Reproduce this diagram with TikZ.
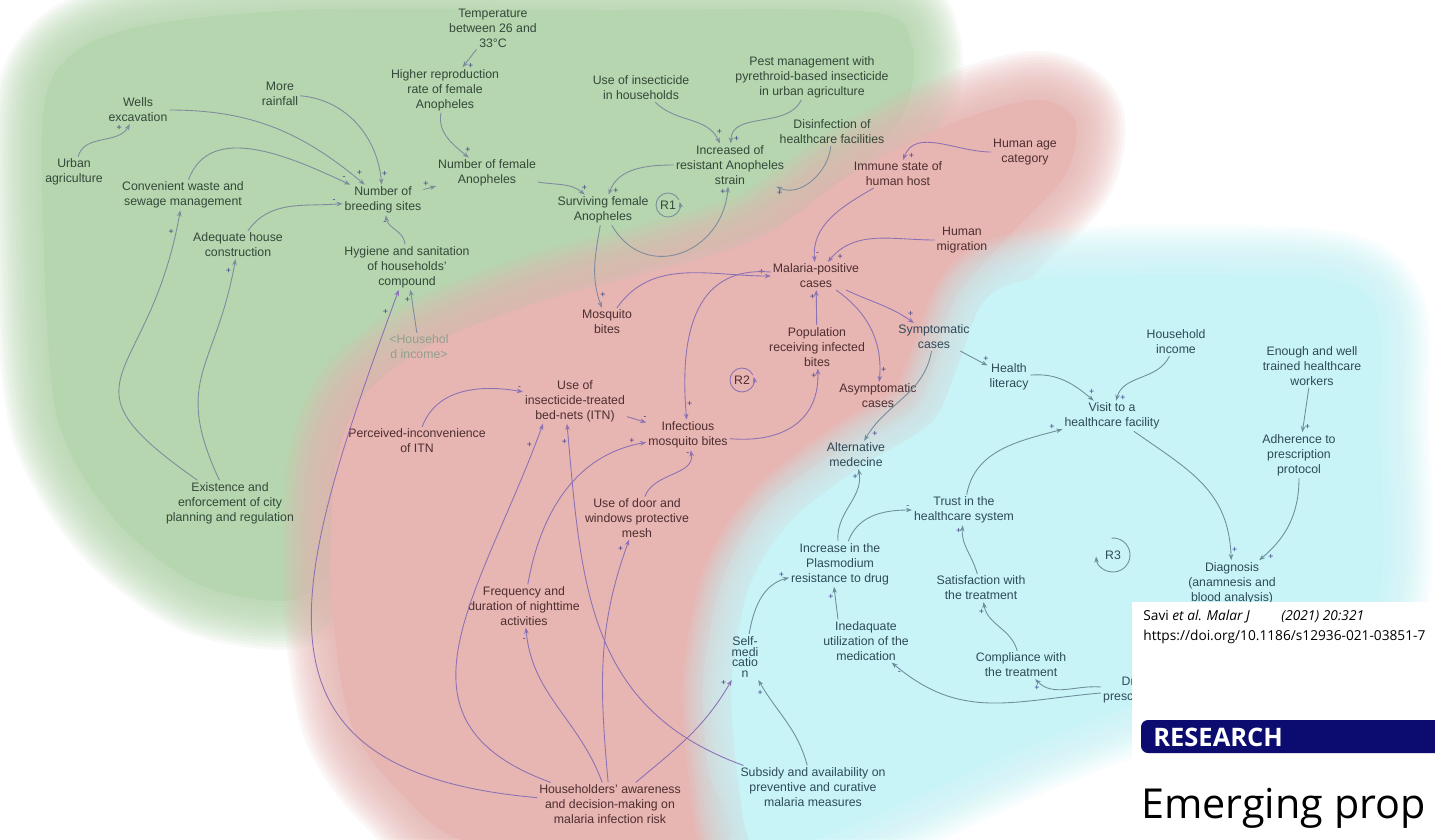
\documentclass[tikz,border=0pt]{standalone}
\usepackage{fontspec}
\setmainfont{Liberation Sans}
\newfontfamily\paperfont{Open Sans}
\usetikzlibrary{arrows.meta,calc}

\definecolor{gbg}{HTML}{B5D6AE}
\definecolor{rbg}{HTML}{E7B5B2}
\definecolor{cbg}{HTML}{C8F4F8}
\definecolor{gtext}{HTML}{34483A}
\definecolor{rtext}{HTML}{4E2E30}
\definecolor{ctext}{HTML}{2E4A58}
\definecolor{gline}{HTML}{7E8C9E}
\definecolor{rline}{HTML}{8C72B4}
\definecolor{cline}{HTML}{6E8E9C}
\definecolor{signc}{HTML}{3C3C86}
\definecolor{hincomec}{HTML}{8FA08F}
\definecolor{resblue}{HTML}{0C0C70}

\begin{document}
\begin{tikzpicture}[x=0.02cm, y=0.02cm,
  lbl/.style={align=center, inner sep=1pt, font=\fontsize{7}{8.5}\selectfont},
  gtxt/.style={lbl, text=gtext},
  rtxt/.style={lbl, text=rtext},
  ctxt/.style={lbl, text=ctext},
  lnk/.style={line width=0.5pt, -{Stealth[length=3.5pt,width=2.6pt]}},
  garr/.style={lnk, draw=gline},
  rarr/.style={lnk, draw=rline},
  carr/.style={lnk, draw=cline},
  pol/.style={font=\fontsize{5}{5}\selectfont, inner sep=0.5pt, text=signc},
  paper/.style={anchor=west, inner sep=0pt, font=\paperfont\fontsize{7.8}{9}\selectfont}]
\useasboundingbox (0,0) rectangle (1435,-839);
\fill[white] (0,0) rectangle (1435,-839);

% Background zones (soft edges)
\foreach \i [evaluate=\i as \lw using 59.5-\i*3.5] in {1,...,16}{
  \draw[gbg, line width=\lw pt, opacity=0.1, line join=round]
    plot[smooth cycle] coordinates {(48,-88) (118,-32) (300,-10) (600,-10) (870,-12) (912,-46) (905,-110) (858,-168) (760,-232) (560,-292) (420,-352) (350,-440) (330,-560) (292,-600) (200,-585) (115,-520) (58,-420) (44,-250)};
}
\fill[gbg] plot[smooth cycle] coordinates {(48,-88) (118,-32) (300,-10) (600,-10) (870,-12) (912,-46) (905,-110) (858,-168) (760,-232) (560,-292) (420,-352) (350,-440) (330,-560) (292,-600) (200,-585) (115,-520) (58,-420) (44,-250)};
\foreach \i [evaluate=\i as \lw using 59.5-\i*3.5] in {1,...,16}{
  \draw[rbg, line width=\lw pt, opacity=0.1, line join=round]
    plot[smooth cycle] coordinates {(335,-470) (362,-398) (430,-345) (540,-302) (650,-272) (760,-238) (850,-175) (950,-124) (1035,-100) (1075,-120) (1065,-175) (1005,-240) (955,-300) (935,-360) (912,-410) (840,-450) (765,-505) (722,-580) (703,-680) (708,-770) (720,-845) (480,-845) (398,-790) (350,-720) (332,-600)};
}
\fill[rbg] plot[smooth cycle] coordinates {(335,-470) (362,-398) (430,-345) (540,-302) (650,-272) (760,-238) (850,-175) (950,-124) (1035,-100) (1075,-120) (1065,-175) (1005,-240) (955,-300) (935,-360) (912,-410) (840,-450) (765,-505) (722,-580) (703,-680) (708,-770) (720,-845) (480,-845) (398,-790) (350,-720) (332,-600)};
\foreach \i [evaluate=\i as \lw using 59.5-\i*3.5] in {1,...,16}{
  \draw[cbg, line width=\lw pt, opacity=0.1, line join=round]
    plot[smooth cycle] coordinates {(985,-300) (1040,-278) (1200,-274) (1335,-280) (1378,-315) (1380,-420) (1378,-600) (1300,-660) (1150,-700) (1020,-750) (900,-805) (800,-845) (752,-845) (737,-770) (732,-680) (750,-585) (792,-520) (862,-466) (932,-422) (958,-365)};
}
\fill[cbg] plot[smooth cycle] coordinates {(985,-300) (1040,-278) (1200,-274) (1335,-280) (1378,-315) (1380,-420) (1378,-600) (1300,-660) (1150,-700) (1020,-750) (900,-805) (800,-845) (752,-845) (737,-770) (732,-680) (750,-585) (792,-520) (862,-466) (932,-422) (958,-365)};

% Green zone: breeding sites and vectors
\node[gtxt] (temp) at (493,-28) {Temperature\\between 26 and\\33°C};
\node[gtxt] (higher) at (445,-90) {Higher reproduction\\rate of female\\Anopheles};
\node[gtxt] (rain) at (280,-94) {More\\rainfall};
\node[gtxt] (wells) at (138,-110) {Wells\\excavation};
\node[gtxt] (urban) at (74,-172) {Urban\\agriculture};
\node[gtxt] (waste) at (183,-195) {Convenient waste and\\sewage management};
\node[gtxt] (breed) at (383,-200) {Number of\\breeding sites};
\node[gtxt] (female) at (487,-173) {Number of female\\Anopheles};
\node[gtxt] (adequate) at (238,-245) {Adequate house\\construction};
\node[gtxt] (hygiene) at (407,-267) {Hygiene and sanitation\\of households'\\compound};
\node[lbl, text=hincomec] (hincome) at (419,-347) {\textless Househol\\d income\textgreater};
\node[gtxt] (exist) at (230,-503) {Existence and\\enforcement of city\\planning and regulation};
\node[gtxt] (insect) at (641,-88) {Use of insecticide\\in households};
\node[gtxt] (pest) at (812,-77) {Pest management with\\pyrethroid-based insecticide\\in urban agriculture};
\node[gtxt] (disinf) at (832,-132) {Disinfection of\\healthcare facilities};
\node[gtxt] (resist) at (730,-165) {Increased of\\resistant Anopheles\\strain};
\node[gtxt] (surviving) at (603,-210) {Surviving female\\Anopheles};
\node[gtxt] (r1) at (668,-205) {R1};

% Red zone: transmission
\node[rtxt] (humanage) at (1025,-152) {Human age\\category};
\node[rtxt] (immune) at (898,-174) {Immune state of\\human host};
\node[rtxt] (migration) at (962,-240) {Human\\migration};
\node[rtxt] (malaria) at (816,-276) {Malaria-positive\\cases};
\node[rtxt] (mosq) at (607,-322) {Mosquito\\bites};
\node[rtxt] (popul) at (817,-347) {Population\\receiving infected\\bites};
\node[rtxt] (r2) at (742,-380) {R2};
\node[rtxt] (asym) at (878,-396) {Asymptomatic\\cases};
\node[rtxt] (itn) at (575,-401) {Use of\\insecticide-treated\\bed-nets (ITN)};
\node[rtxt] (percv) at (417,-441) {Perceived-inconvenience\\of ITN};
\node[rtxt] (infect) at (688,-435) {Infectious\\mosquito bites};
\node[rtxt] (door) at (637,-518) {Use of door and\\windows protective\\mesh};
\node[rtxt] (freq) at (524,-606) {Frequency and\\duration of nighttime\\activities};
\node[rtxt] (house) at (610,-804) {Householders' awareness\\and decision-making on\\malaria infection risk};

% Cyan zone: care seeking
\node[ctxt] (sympt) at (934,-337) {Symptomatic\\cases};
\node[ctxt] (hhincome) at (1176,-342) {Household\\income};
\node[ctxt] (health) at (1009,-377) {Health\\literacy};
\node[ctxt] (visit) at (1112,-416) {Visit to a\\healthcare facility};
\node[ctxt] (enough) at (1312,-366) {Enough and well\\trained healthcare\\workers};
\node[ctxt] (adher) at (1299,-455) {Adherence to\\prescription\\protocol};
\node[ctxt] (altern) at (856,-455) {Alternative\\medecine};
\node[ctxt] (trust) at (964,-510) {Trust in the\\healthcare system};
\node[ctxt] (plasmo) at (840,-564) {Increase in the\\Plasmodium\\resistance to drug};
\node[ctxt] (r3) at (1113,-555) {R3};
\node[ctxt] (diag) at (1232,-583) {Diagnosis\\(anamnesis and\\blood analysis)};
\node[ctxt] (satisf) at (981,-588) {Satisfaction with\\the treatment};
\node[ctxt] (inadeq) at (866,-641) {Inedaquate\\utilization of the\\medication};
\node[ctxt] (compl) at (1021,-665) {Compliance with\\the treatment};
\node[ctxt] (drug) at (1135,-690) {Drug\\prescription};
\node[ctxt, font=\fontsize{7}{6.2}\selectfont] (selfmed) at (745,-657) {Self-\\medi\\catio\\n};
\node[ctxt] (subsidy) at (813,-787) {Subsidy and availability on\\preventive and curative\\malaria measures};

% links, green
\draw[garr] (urban) to[out=75,in=240] node[pol,pos=0.85,auto]{+} (wells);
\draw[garr] (wells) to[out=0,in=140] node[pol,pos=0.95,auto]{+} (breed);
\draw[garr] (rain) to[out=-5,in=95] node[pol,pos=0.95,auto]{+} (breed);
\draw[garr] (waste) to[out=70,in=155] node[pol,pos=0.95,auto]{-} (breed);
\draw[garr] (adequate) to[out=55,in=185] node[pol,pos=0.95,auto]{-} (breed);
\draw[garr] (hygiene) to[out=95,in=-80] node[pol,pos=0.85,auto]{-} (breed);
\draw[garr] (exist) to[out=145,in=-100,looseness=1.7] node[pol,pos=0.95,auto]{+} (waste);
\draw[garr] (exist) to[out=115,in=-100,looseness=1.3] node[pol,pos=0.95,auto]{+} (adequate);
\draw[garr] (hincome) -- node[pol,pos=0.85,auto]{+} (hygiene);
\draw[garr] (temp) -- node[pol,pos=0.7,auto]{+} (higher);
\draw[garr] (higher) to[out=-100,in=140] node[pol,pos=0.9,auto]{+} (female);
\draw[garr] (breed) -- node[pol,pos=0.5,auto]{+} (female);
\draw[garr] (female) to[out=-10,in=140] node[pol,pos=0.9,auto]{+} (surviving);
\draw[garr] (resist) to[out=180,in=70] node[pol,pos=0.9,auto]{+} (surviving);
\draw[garr] (surviving) to[out=-60,in=-95,looseness=1.4] node[pol,pos=0.95,auto]{+} (resist);
\draw[garr] (insect) to[out=-45,in=115] node[pol,pos=0.9,auto]{+} (resist);
\draw[garr] (pest) to[out=-115,in=88] node[pol,pos=0.9,auto]{+} (resist);
\draw[garr] (disinf) to[out=-95,in=-25] node[pol,pos=0.9,auto]{+} (resist);
\draw[garr] (surviving) to[out=-100,in=110] node[pol,pos=0.9,auto]{+} (mosq);
\draw[garr] ($(r1)+(25:12)$) arc[start angle=25, end angle=375, radius=12];

% links, red
\draw[rarr] (mosq) to[out=55,in=180] node[pol,pos=0.95,auto]{+} (malaria);
\draw[rarr] (humanage) to[out=180,in=70] node[pol,pos=0.9,auto]{+} (immune);
\draw[rarr] (immune) to[out=210,in=95] node[pol,pos=0.9,auto]{-} (malaria);
\draw[rarr] (migration) to[out=180,in=50] node[pol,pos=0.9,auto]{+} (malaria);
\draw[rarr] (malaria) to[out=175,in=95,looseness=1.2] node[pol,pos=0.95,auto]{+} (infect);
\draw[rarr] (infect) to[out=-5,in=-88,looseness=1.2] node[pol,pos=0.95,auto]{+} (popul);
\draw[rarr] (popul) -- node[pol,pos=0.8,auto]{+} (malaria);
\draw[rarr] (malaria) to[out=-35,in=85] node[pol,pos=0.9,auto]{+} (asym);
\draw[rarr] (malaria) to[out=-25,in=145] node[pol,pos=0.9,auto]{+} (sympt);
\draw[rarr] (percv) to[out=70,in=170] node[pol,pos=0.95,auto]{-} (itn);
\draw[rarr] (itn) -- node[pol,pos=0.8,auto]{-} (infect);
\draw[rarr] (house) to[out=160,in=-110,looseness=1.3] node[pol,pos=0.95,auto]{+} ($(itn.south)+(-32,0)$);
\draw[rarr] ($(subsidy.north west)+(5,0)$) to[out=160,in=-85,looseness=1.1] node[pol,pos=0.97,auto]{+} ($(itn.south)+(-8,0)$);
\draw[rarr] (house) to[out=110,in=-85] node[pol,pos=0.95,auto]{-} (freq);
\draw[rarr] (freq) to[out=80,in=190] node[pol,pos=0.95,auto]{+} (infect);
\draw[rarr] (house) to[out=95,in=-110] node[pol,pos=0.95,auto]{+} (door);
\draw[rarr] (door) to[out=70,in=-80] node[pol,pos=0.9,auto]{-} (infect);
\draw[rarr] (house) to[out=40,in=-120] node[pol,pos=0.95,auto]{+} (selfmed);
\draw[rarr] (house) to[out=175,in=-110,looseness=1.5] node[pol,pos=0.97,auto]{+} (hygiene);
\draw[rarr] ($(r2)+(25:12)$) arc[start angle=25, end angle=375, radius=12];

% links, cyan
\draw[carr] (sympt) to[out=-100,in=60] node[pol,pos=0.9,auto]{+} (altern);
\draw[carr] (sympt) -- node[pol,pos=0.8,auto]{+} (health);
\draw[carr] (health) to[out=5,in=140] node[pol,pos=0.9,auto]{+} (visit);
\draw[carr] (hhincome) to[out=-115,in=75] node[pol,pos=0.9,auto]{+} (visit);
\draw[carr] (visit) to[out=-35,in=92,looseness=1.1] node[pol,pos=0.97,auto]{+} (diag);
\draw[carr] (enough) -- node[pol,pos=0.8,auto]{+} (adher);
\draw[carr] (adher) to[out=-90,in=40] node[pol,pos=0.9,auto]{+} (diag);
\draw[carr] (trust) to[out=80,in=195] node[pol,pos=0.95,auto]{+} (visit);
\draw[carr] (satisf) to[out=105,in=-95] node[pol,pos=0.9,auto]{+} (trust);
\draw[carr] (compl) to[out=105,in=-80] node[pol,pos=0.9,auto]{+} (satisf);
\draw[carr] (drug) to[out=175,in=-45] node[pol,pos=0.9,auto]{+} (compl);
\draw[carr] (drug) to[out=185,in=-40,looseness=1.1] node[pol,pos=0.95,auto]{-} (inadeq);
\draw[carr] ($(inadeq.north)+(-28,0)$) -- node[pol,pos=0.8,auto]{+} ($(plasmo.south)+(-6,0)$);
\draw[carr] (plasmo) to[out=70,in=180] node[pol,pos=0.95,auto]{-} (trust);
\draw[carr] (plasmo) to[out=95,in=-80] node[pol,pos=0.9,auto]{+} (altern);
\draw[carr] (selfmed) to[out=80,in=195] node[pol,pos=0.95,auto]{+} (plasmo);
\draw[carr] (subsidy) to[out=105,in=-60] node[pol,pos=0.9,auto]{+} (selfmed);
\draw[carr] ($(r3)+(95:17)$) arc[start angle=95, end angle=-175, radius=17];

% paper page on top
\begin{scope}
\clip (1132,-602) rectangle (1435,-839);
\fill[white] (1132,-602) rectangle (1435,-839);
\fill[resblue, rounded corners=4pt] (1141,-720) rectangle (1470,-753);
\node[paper] (cite) at (1143,-617) {Savi \textit{et al. Malar J}};
\node[paper] (year) at (1281,-617) {\textit{(2021) 20:321}};
\node[paper] (doi) at (1143,-637) {https://doi.org/10.1186/s12936-021-03851-7};
\node[paper, text=white, font=\paperfont\bfseries\fontsize{14.5}{16}\selectfont] (research) at (1153,-737) {RESEARCH};
\node[paper, anchor=base west, font=\paperfont\fontsize{23.5}{26}\selectfont] (title) at (1141,-818) {Emerging prop};
\end{scope}
\end{tikzpicture}
\end{document}
